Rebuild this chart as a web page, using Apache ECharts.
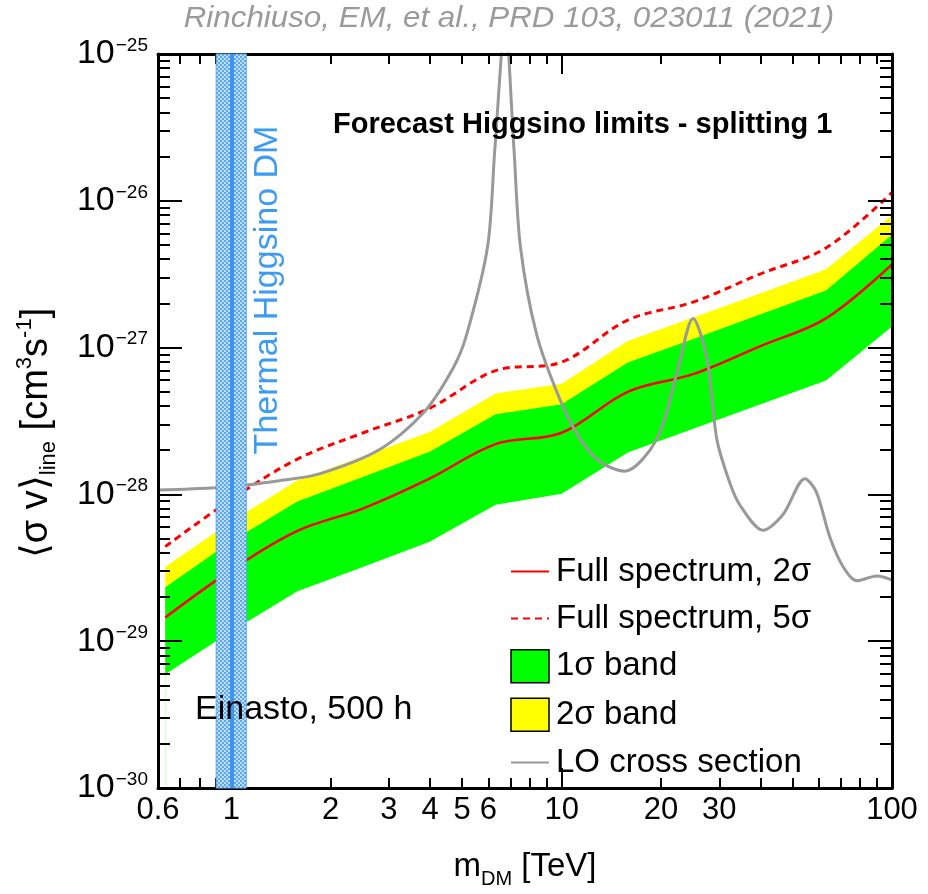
<!DOCTYPE html>
<html><head><meta charset="utf-8">
<script src="https://cdn.jsdelivr.net/npm/echarts@6/dist/echarts.min.js"></script>
<style>html,body{margin:0;padding:0;background:#fff}#c{width:928px;height:894px}</style>
</head><body><div id="c"></div>
<script>
// ---------- data ----------
const massGrid    = [0.631, 1.0, 1.585, 2.512, 3.981, 6.31, 10, 15.85, 25.12, 39.81, 63.1, 100];
const band1Lower  = [5.96e-30, 1.17e-29, 2.19e-29, 3.21e-29, 4.76e-29, 8.51e-29, 1.01e-28, 1.93e-28, 2.81e-28, 4.10e-28, 5.97e-28, 1.39e-27];
const band1Upper  = [2.33e-29, 4.80e-29, 8.95e-29, 1.32e-28, 1.95e-28, 3.52e-28, 4.11e-28, 7.93e-28, 1.15e-27, 1.68e-27, 2.45e-27, 5.86e-27];
const band2Upper  = [3.21e-29, 6.55e-29, 1.25e-28, 1.82e-28, 2.66e-28, 4.87e-28, 5.68e-28, 1.11e-27, 1.61e-27, 2.34e-27, 3.42e-27, 7.97e-27];
const limit2sigma = [1.45e-29, 3.05e-29, 5.64e-29, 8.04e-29, 1.28e-28, 2.20e-28, 2.63e-28, 5.00e-28, 6.62e-28, 1.02e-27, 1.58e-27, 3.69e-27];
const limit5sigma = [4.41e-29, 9.23e-29, 1.74e-28, 2.63e-28, 3.86e-28, 6.97e-28, 7.96e-28, 1.54e-27, 2.05e-27, 3.17e-27, 4.77e-27, 1.14e-26];

const loMass = [0.6, 0.9, 1.11, 1.4, 1.85, 2.82, 3.81, 4.7, 5.16, 5.97, 6.28, 6.75, 7.17, 7.5, 8.4, 9.9, 11.4, 13.1, 15.5, 19.4, 22.3, 25.0, 27.5, 29.5, 32.2, 34.6, 40.7, 46.8, 54.5, 59.0, 64.9, 71.2, 78.2, 90.1, 100];
const loXsec = [1.07e-28, 1.11e-28, 1.16e-28, 1.24e-28, 1.38e-28, 2.03e-28, 3.58e-28, 7.3e-28, 1.23e-27, 4.9e-27, 2.28e-26, 1.6e-25, 2.28e-26, 4.9e-27, 1.23e-27, 4.39e-28, 2.37e-28, 1.66e-28, 1.44e-28, 2.37e-28, 6.62e-28, 1.58e-27, 8.56e-28, 2.37e-28, 1.22e-28, 8.5e-29, 5.7e-29, 7.3e-29, 1.28e-28, 1.04e-28, 5.09e-29, 3.2e-29, 2.58e-29, 2.78e-29, 2.61e-29];

const thermalRange = [0.9, 1.11];
const thermalCenter = 1.0;

const xLabelVals = [0.6, 1, 2, 3, 4, 5, 6, 10, 20, 30, 100];
const xMajorTicks = [1, 10, 100];
const xMinorTicks = [0.7, 0.8, 0.9, 2, 3, 4, 5, 6, 7, 8, 9, 20, 30, 40, 50, 60, 70, 80, 90];
const yRange = [1e-30, 1e-25];
const yDecades = [-30, -29, -28, -27, -26, -25];
const yMinorMult = [2, 3, 4, 5, 6, 7, 8, 9];

// ---------- build ----------
// the y axis is drawn in units of 1e-28 cm^3 s^-1 (log scale rounds tiny numbers); labels show the true powers
const Y_EXP = -28;
const yUnit = Math.pow(10, Y_EXP);
const ys = v => +(v / yUnit).toPrecision(8);
const F = 'Liberation Sans, Arial, Helvetica, sans-serif';
const zip = (xs, yv) => xs.map((x, i) => [x, ys(yv[i])]);
const yMajorTicks = yDecades.map(e => +Math.pow(10, e - Y_EXP).toPrecision(8));
const yMinorTicks = [];
yDecades.slice(0, -1).forEach(e => yMinorMult.forEach(k => yMinorTicks.push(+(k * Math.pow(10, e - Y_EXP)).toPrecision(8))));

const pc = document.createElement('canvas');
pc.width = 4; pc.height = 4;
const g = pc.getContext('2d');
g.fillStyle = '#c2def9'; g.fillRect(0, 0, 4, 4);
g.fillStyle = '#58a8f2';
g.fillRect(0, 0, 2, 2); g.fillRect(2, 2, 2, 2);

const chart = echarts.init(document.getElementById('c'), null, {renderer: 'canvas'});

const xBase = {type: 'log', logBase: 10, min: 0.6, max: 100, splitLine: {show: false}, z: 5};
const yBase = {type: 'log', logBase: 10, min: ys(yRange[0]), max: ys(yRange[1]), splitLine: {show: false}, z: 5};
const frame = {show: true, lineStyle: {color: '#000', width: 3}};
const tickStyle = {color: '#000', width: 2};
const noSym = {opacity: 0};

chart.setOption({
  animation: false,
  backgroundColor: '#fff',
  grid: {left: 158, right: 36, top: 54, bottom: 92, containLabel: false},
  xAxis: [
    Object.assign({}, xBase, {
      position: 'bottom', axisLine: frame,
      axisTick: {show: true, inside: true, length: 20, lineStyle: tickStyle, customValues: xMajorTicks},
      axisLabel: {customValues: xLabelVals, formatter: v => String(+(+v).toPrecision(3)), fontSize: 31, fontFamily: F, color: '#000', margin: 7},
      name: '{a|m}{sub|DM}{a| [TeV]}', nameLocation: 'middle', nameGap: 62,
      nameTextStyle: {rich: {a: {fontSize: 33, fontFamily: F, color: '#000'}, sub: {fontSize: 20, fontFamily: F, color: '#000', verticalAlign: 'bottom', padding: [0, 0, -6, 0]}}}
    }),
    Object.assign({}, xBase, {
      position: 'bottom', axisLine: {show: false},
      axisTick: {show: true, inside: true, length: 10, lineStyle: tickStyle, customValues: xMinorTicks},
      axisLabel: {show: false}
    }),
    Object.assign({}, xBase, {
      position: 'top', axisLine: frame,
      axisTick: {show: true, inside: true, length: 20, lineStyle: tickStyle, customValues: xMajorTicks},
      axisLabel: {show: false}
    }),
    Object.assign({}, xBase, {
      position: 'top', axisLine: {show: false},
      axisTick: {show: true, inside: true, length: 10, lineStyle: tickStyle, customValues: xMinorTicks},
      axisLabel: {show: false}
    })
  ],
  yAxis: [
    Object.assign({}, yBase, {
      position: 'left', axisLine: frame,
      axisTick: {show: true, inside: true, length: 24, lineStyle: tickStyle, customValues: yMajorTicks},
      axisLabel: {customValues: yMajorTicks, margin: 10,
        formatter: v => '{b|10}{s|\u2212' + (-(Math.round(Math.log10(+v)) + Y_EXP)) + '}',
        rich: {b: {fontSize: 34, fontFamily: F, color: '#000', lineHeight: 40}, s: {fontSize: 19, fontFamily: F, color: '#000', verticalAlign: 'top', padding: [2, 0, 0, 1]}}},
      name: '{a|\u27E8\u03C3 v\u27E9}{sub|line}{a| [cm}{sup|3}{a|s}{sup|-1}{a|]}', nameLocation: 'middle', nameGap: 98, nameRotate: 90,
      nameTextStyle: {padding: [0, 24, 0, 0], rich: {
        a: {fontSize: 38, fontFamily: F, color: '#000', lineHeight: 46},
        sub: {fontSize: 22, fontFamily: F, color: '#000', verticalAlign: 'bottom'},
        sup: {fontSize: 22, fontFamily: F, color: '#000', verticalAlign: 'top'}
      }}
    }),
    Object.assign({}, yBase, {
      position: 'left', axisLine: {show: false},
      axisTick: {show: true, inside: true, length: 12, lineStyle: tickStyle, customValues: yMinorTicks},
      axisLabel: {show: false}
    }),
    Object.assign({}, yBase, {
      position: 'right', axisLine: frame,
      axisTick: {show: true, inside: true, length: 24, lineStyle: tickStyle, customValues: yMajorTicks},
      axisLabel: {show: false}
    }),
    Object.assign({}, yBase, {
      position: 'right', axisLine: {show: false},
      axisTick: {show: true, inside: true, length: 12, lineStyle: tickStyle, customValues: yMinorTicks},
      axisLabel: {show: false}
    })
  ],
  legend: {
    orient: 'vertical', left: 505, top: 550, itemWidth: 38, itemHeight: 33, itemGap: 14,
    textStyle: {fontSize: 33, fontFamily: F, color: '#000', padding: [0, 0, 0, 2]},
    selectedMode: false,
    data: [
      {name: 'Full spectrum, 2\u03C3', itemStyle: noSym},
      {name: 'Full spectrum, 5\u03C3', itemStyle: noSym},
      {name: '1\u03C3 band', icon: 'rect', itemStyle: {color: '#00ff00', borderColor: '#000', borderWidth: 1.5}},
      {name: '2\u03C3 band', icon: 'rect', itemStyle: {color: '#ffff00', borderColor: '#000', borderWidth: 1.5}},
      {name: 'LO cross section', itemStyle: noSym}
    ]
  },
  graphic: [
    {type: 'text', x: 509, y: 19, scaleX: 1.08, style: {text: 'Rinchiuso, EM, et al., PRD 103, 023011 (2021)', fontSize: 29, fontStyle: 'italic', fontFamily: F, fill: '#9a9a9a', align: 'center', verticalAlign: 'middle'}, z: 50},
    {type: 'text', x: 333, y: 125, style: {text: 'Forecast Higgsino limits - splitting 1', fontSize: 29, fontWeight: 'bold', fontFamily: F, fill: '#000', verticalAlign: 'middle'}, z: 50},
    {type: 'text', x: 195, y: 710, style: {text: 'Einasto, 500 h', fontSize: 34, fontFamily: F, fill: '#000', verticalAlign: 'middle'}, z: 50},
    {type: 'text', x: 268, y: 290, rotation: Math.PI / 2, style: {text: 'Thermal Higgsino DM', fontSize: 34, fontFamily: F, fill: '#3d9cf2', align: 'center', verticalAlign: 'middle'}, z: 50}
  ],
  series: [
    {name: '2\u03C3 band', type: 'line', data: zip(massGrid, band2Upper), symbol: 'none', lineStyle: {width: 0, opacity: 0}, itemStyle: {color: '#ffff00'}, areaStyle: {color: '#ffff00', opacity: 1}, z: 2, silent: true},
    {name: '1\u03C3 band', type: 'line', data: zip(massGrid, band1Upper), symbol: 'none', lineStyle: {width: 0, opacity: 0}, itemStyle: {color: '#00ff00'}, areaStyle: {color: '#00ff00', opacity: 1}, z: 2, silent: true},
    {name: 'bandFloor', type: 'line', data: zip(massGrid, band1Lower), symbol: 'none', lineStyle: {width: 0, opacity: 0}, itemStyle: {color: '#ffffff'}, areaStyle: {color: '#ffffff', opacity: 1}, z: 2, silent: true},
    {name: 'Full spectrum, 2\u03C3', type: 'line', data: zip(massGrid, limit2sigma), symbol: 'none', smooth: 0.35, lineStyle: {color: '#ff0000', width: 2.5}, itemStyle: {color: '#ff0000'}, z: 3, silent: true},
    {name: 'Full spectrum, 5\u03C3', type: 'line', data: zip(massGrid, limit5sigma), symbol: 'none', smooth: 0.35, lineStyle: {color: '#ff0000', width: 3, type: [7, 5]}, itemStyle: {color: '#ff0000'}, z: 3, silent: true},
    {name: 'LO cross section', type: 'line', data: zip(loMass, loXsec), symbol: 'none', smooth: 0.3, clip: true, lineStyle: {color: '#999999', width: 3}, itemStyle: {color: '#999999'}, z: 4, silent: true},
    {name: 'thermal', type: 'line', data: [], symbol: 'none', z: 8, silent: true,
      markArea: {silent: true, z: 10, itemStyle: {color: {image: pc, repeat: 'repeat'}, borderColor: '#5aa6f0', borderWidth: 1}, data: [[{xAxis: thermalRange[0]}, {xAxis: thermalRange[1]}]]},
      markLine: {silent: true, z: 11, symbol: 'none', label: {show: false}, lineStyle: {color: '#3f95ee', width: 4, type: 'solid'}, data: [{xAxis: thermalCenter}]}
    }
  ]
});
</script></body></html>
